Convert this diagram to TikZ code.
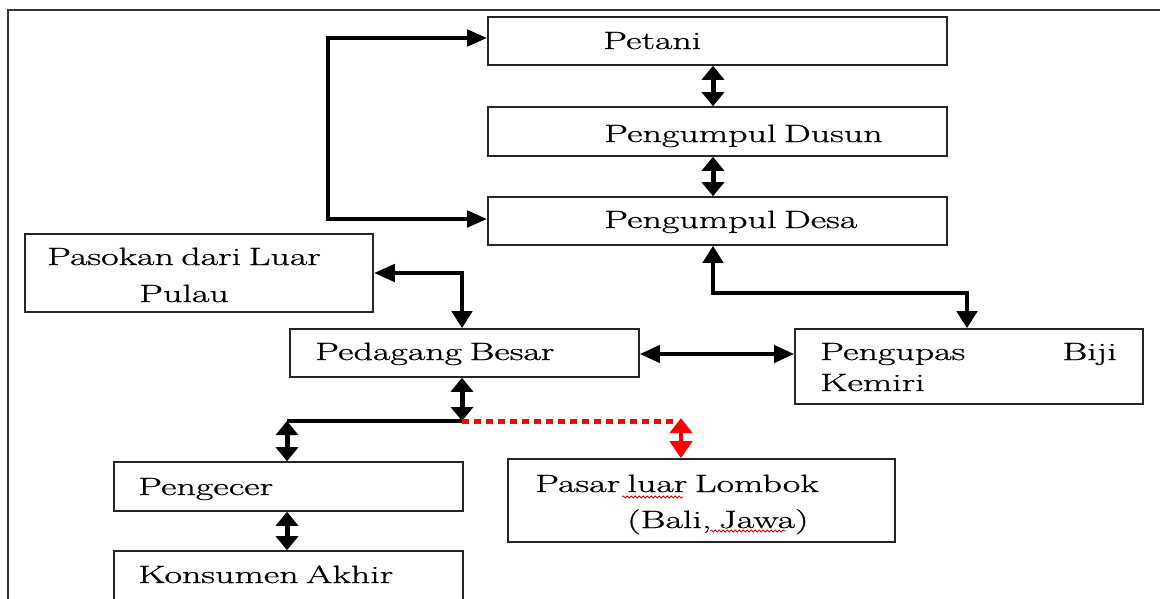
\documentclass[tikz,border=0pt]{standalone}
\usepackage{fontspec}
\setmainfont{Latin Modern Roman}[FakeBold=0.7,WordSpace=0.65]
\usepackage{graphicx}
\usetikzlibrary{arrows.meta,decorations.pathmorphing}
\newcommand\st[1]{\scalebox{1.52}[1]{#1}}
\begin{document}
\begin{tikzpicture}[x=1pt,y=-1pt,
  box/.style={draw=black!85,line width=1.6pt,inner sep=0pt,fill=none},
  txt/.style={anchor=base west,inner sep=0pt,font=\fontsize{25}{30}\selectfont},
  ctxt/.style={anchor=base,inner sep=0pt,font=\fontsize{25}{30}\selectfont},
  conn/.style={line width=4.5pt,draw=black},
  bighead/.style={{Triangle[length=20pt,width=16pt]}-{Triangle[length=20pt,width=16pt]}},
  dbl/.style={line width=5pt,draw=black,{Triangle[length=14pt,width=22pt]}-{Triangle[length=14pt,width=22pt]}},
  reddbl/.style={line width=4pt,draw=red,{Triangle[length=15pt,width=22pt]}-{Triangle[length=17pt,width=22pt]}},
  reddot/.style={line width=5pt,draw=red,dash pattern=on 7pt off 5pt},
  squig/.style={draw=red,line width=0.8pt,decorate,decoration={snake,segment length=4pt,amplitude=1pt}}
]
\clip (0,0) rectangle (1160,598);
\fill[white] (0,0) rectangle (1160,598);
% outer frame
\draw[line width=1.6pt,black!80] (8,700) -- (8,10) -- (1200,10);

% boxes
\node[box,minimum width=459pt,minimum height=48pt] (petani) at (717.5,41) {};
\node[box,minimum width=459pt,minimum height=49pt] (dusun) at (717.5,131.5) {};
\node[box,minimum width=459pt,minimum height=48pt] (desa) at (717.5,221) {};
\node[box,minimum width=348pt,minimum height=78pt] (pasokan) at (199,273) {};
\node[box,minimum width=349pt,minimum height=48pt] (pedagang) at (464.5,353) {};
\node[box,minimum width=348pt,minimum height=75pt] (pengupas) at (969,366.5) {};
\node[box,minimum width=349pt,minimum height=49pt] (pengecer) at (288.5,486.5) {};
\node[box,minimum width=349pt,minimum height=90pt] (konsumen) at (288.5,596) {};
\node[box,minimum width=387pt,minimum height=83pt] (pasar) at (701.5,500.5) {};

% texts
\node[txt] (tpetani) at (603,49) {\st{Petani}};
\node[txt] (tdusun) at (604,142) {\st{Pengumpul Dusun}};
\node[txt] (tdesa) at (604,228) {\st{Pengumpul Desa}};
\node[ctxt] (tpas1) at (184,265) {\st{Pasokan dari Luar}};
\node[ctxt] (tpas2) at (184,302) {\st{Pulau}};
\node[txt] (tpedagang) at (315,360) {\st{Pedagang Besar}};
\node[txt] (tpeng1) at (820,360) {\st{Pengupas}};
\node[txt,anchor=base east] (tbiji) at (1117,360) {\st{Biji}};
\node[txt] (tpeng2) at (820,391) {\st{Kemiri}};
\node[txt] (tpengecer) at (138,495) {\st{Pengecer}};
\node[txt] (tkons) at (138,583) {\st{Konsumen Akhir}};
\node[txt] (tpasar1) at (535,492) {\st{Pasar luar Lombok}};
\node[txt] (tpasar2) at (627,528) {\st{(Bali, Jawa)}};

% spell-check squiggles
\coordinate (sq1a) at (622,497); \coordinate (sq1b) at (683,497);
\coordinate (sq2a) at (710,531); \coordinate (sq2b) at (786,531);
\draw[squig] (sq1a) -- (sq1b);
\draw[squig] (sq2a) -- (sq2b);

% connectors
\draw[conn,bighead] ([yshift=3pt]petani.west) -- ++(-159,0) |- ([yshift=2pt]desa.west);
\draw[dbl] ([xshift=-4.5pt]petani.south) -- ([xshift=-4.5pt]dusun.north);
\draw[dbl] ([xshift=-4.5pt]dusun.south) -- ([xshift=-4.5pt]desa.north);
\draw[conn,{Triangle[length=17pt,width=20pt]}-{Triangle[length=17pt,width=20pt]}]
  ([xshift=-4.5pt]desa.south) -- ++(0,47) -| ([xshift=-2pt]pengupas.north);
\draw[conn,{Triangle[length=21pt,width=17pt]}-{Triangle[length=17pt,width=20pt]}]
  (pasokan.east) -| ([xshift=-2.5pt]pedagang.north);
\draw[line width=4pt,{Triangle[length=20pt,width=17pt]}-{Triangle[length=20pt,width=17pt]}]
  ([yshift=-1pt]pedagang.east) -- ([yshift=-1pt]pedagang.east -| pengupas.west);

\coordinate (j) at (462,421);
\coordinate (k) at (287,421);
\coordinate (r) at (675,421);
\coordinate (rt) at (681,418);
\draw[dbl] ([xshift=-2.5pt]pedagang.south) -- (j);
\draw[line width=4pt] ([xshift=2pt]j) -- (k);
\draw[dbl] (k) -- ([xshift=-1.5pt]pengecer.north);
\draw[dbl] ([xshift=-1.5pt]pengecer.south) -- ([xshift=-1.5pt]konsumen.north);
\draw[reddot] (j) -- (r);
\draw[reddbl] (rt) -- (rt |- pasar.north);
\end{tikzpicture}
\end{document}
